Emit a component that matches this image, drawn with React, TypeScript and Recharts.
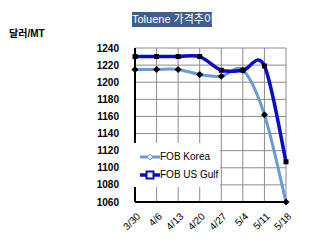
import { LineChart, Line, XAxis, YAxis, CartesianGrid, Legend } from 'recharts'

const WEEKS = ['3/30', '4/6', '4/13', '4/20', '4/27', '5/4', '5/11', '5/18']
const FOB_KOREA = [1215, 1215, 1215, 1209, 1207, 1214, 1162, 1060]
const FOB_US_GULF = [1230, 1230, 1230, 1230, 1214, 1214, 1219, 1107]
const Y_TICKS = [1060, 1080, 1100, 1120, 1140, 1160, 1180, 1200, 1220, 1240]

const KOREA_COLOR = '#6b9ad6'
const GULF_COLOR = '#0a0acf'
const GRID_COLOR = '#8c8c8c'
const FONT = '"Liberation Sans", Arial, sans-serif'
const KR_FONT = '"Liberation Sans", "Noto Sans CJK KR", sans-serif'

const data = WEEKS.map((week, i) => ({
  week,
  korea: FOB_KOREA[i],
  gulf: FOB_US_GULF[i],
}))

// Excel-style smoothed line (Catmull-Rom through the points)
function excelCurve(context: any) {
  let pts: number[][] = []
  return {
    areaStart() {},
    areaEnd() {},
    lineStart() {
      pts = []
    },
    point(x: number, y: number) {
      pts.push([+x, +y])
    },
    lineEnd() {
      const n = pts.length
      if (!n) return
      context.moveTo(pts[0][0], pts[0][1])
      for (let i = 0; i < n - 1; i++) {
        const p0 = pts[Math.max(i - 1, 0)]
        const p1 = pts[i]
        const p2 = pts[i + 1]
        const p3 = pts[Math.min(i + 2, n - 1)]
        context.bezierCurveTo(
          p1[0] + (p2[0] - p0[0]) / 6,
          p1[1] + (p2[1] - p0[1]) / 6,
          p2[0] - (p3[0] - p1[0]) / 6,
          p2[1] - (p3[1] - p1[1]) / 6,
          p2[0],
          p2[1]
        )
      }
    },
  }
}

function DiamondDot({ cx, cy }: { cx?: number; cy?: number }) {
  if (cx == null || cy == null) return null
  return <path d={`M${cx},${cy - 3.5}L${cx + 3.5},${cy}L${cx},${cy + 3.5}L${cx - 3.5},${cy}Z`} fill="#000" />
}

function SquareDot({ cx, cy }: { cx?: number; cy?: number }) {
  if (cx == null || cy == null) return null
  return <rect x={cx - 2.5} y={cy - 2.5} width={5} height={5} fill="#000" />
}

function XTick({ x, y, payload }: any) {
  const ax = x + 6
  const ay = y + 15
  return (
    <text
      x={ax}
      y={ay}
      transform={`rotate(-45, ${ax}, ${ay})`}
      textAnchor="end"
      fontSize={10}
      fontFamily={FONT}
      fill="#000"
    >
      {payload.value}
    </text>
  )
}

function LegendBox() {
  return (
    <div
      style={{
        background: '#fff',
        width: 93,
        height: 44,
        fontFamily: FONT,
        fontSize: 10,
        color: '#000',
        position: 'relative',
      }}
    >
      <svg width={22} height={44} style={{ position: 'absolute', left: 12, top: 0 }}>
        <line x1={1} y1={14} x2={21} y2={14} stroke={KOREA_COLOR} strokeWidth={3} />
        <path d="M11,11L14,14L11,17L8,14Z" fill="#fff" stroke={KOREA_COLOR} strokeWidth={1} />
        <line x1={1} y1={32} x2={21} y2={32} stroke={GULF_COLOR} strokeWidth={3.5} />
        <rect x={7.5} y={28.5} width={7} height={7} fill="#fff" stroke={GULF_COLOR} strokeWidth={2} />
      </svg>
      <div style={{ position: 'absolute', left: 33, top: 8, whiteSpace: 'nowrap' }}>FOB Korea</div>
      <div style={{ position: 'absolute', left: 33, top: 26, whiteSpace: 'nowrap' }}>FOB US Gulf</div>
    </div>
  )
}

export default function App() {
  return (
    <div style={{ position: 'absolute', left: 0, top: 0, width: 310, height: 251, background: '#fff' }}>
      <div
        style={{
          position: 'absolute',
          left: 132,
          top: 12,
          width: 80,
          height: 15,
          background: '#3f5e8e',
          color: '#fff',
          fontFamily: KR_FONT,
          fontSize: 11,
          lineHeight: '15px',
          textAlign: 'center',
          whiteSpace: 'nowrap',
        }}
      >
        Toluene 가격추이
      </div>
      <div
        style={{
          position: 'absolute',
          left: 9,
          top: 28,
          fontFamily: KR_FONT,
          fontSize: 10,
          fontWeight: 'bold',
          lineHeight: '12px',
        }}
      >
        달러/MT
      </div>
      <LineChart
        width={310}
        height={251}
        data={data}
        margin={{ top: 48, right: 24, bottom: 0, left: 0 }}
      >
        <CartesianGrid stroke={GRID_COLOR} strokeWidth={1} />
        <XAxis
          dataKey="week"
          height={49}
          tickLine={false}
          tickSize={0}
          tickMargin={0}
          interval={0}
          axisLine={{ stroke: '#000', strokeWidth: 2 }}
          tick={<XTick />}
        />
        <YAxis
          width={42}
          domain={[1060, 1240]}
          ticks={Y_TICKS}
          interval={0}
          tickLine={false}
          tickMargin={10}
          axisLine={{ stroke: '#000', strokeWidth: 2 }}
          tick={{ fontSize: 10, fontWeight: 'bold', fill: '#000', fontFamily: FONT }}
        />
        <Legend
          layout="horizontal"
          verticalAlign="middle"
          align="left"
          wrapperStyle={{ left: 127, top: 143, width: 93, height: 44 }}
          content={() => <LegendBox />}
        />
        <Line
          dataKey="korea"
          name="FOB Korea"
          type={excelCurve as any}
          stroke={KOREA_COLOR}
          strokeWidth={3}
          dot={<DiamondDot />}
          activeDot={false}
          isAnimationActive={false}
        />
        <Line
          dataKey="gulf"
          name="FOB US Gulf"
          type={excelCurve as any}
          stroke={GULF_COLOR}
          strokeWidth={3.5}
          dot={<SquareDot />}
          activeDot={false}
          isAnimationActive={false}
        />
      </LineChart>
    </div>
  )
}
